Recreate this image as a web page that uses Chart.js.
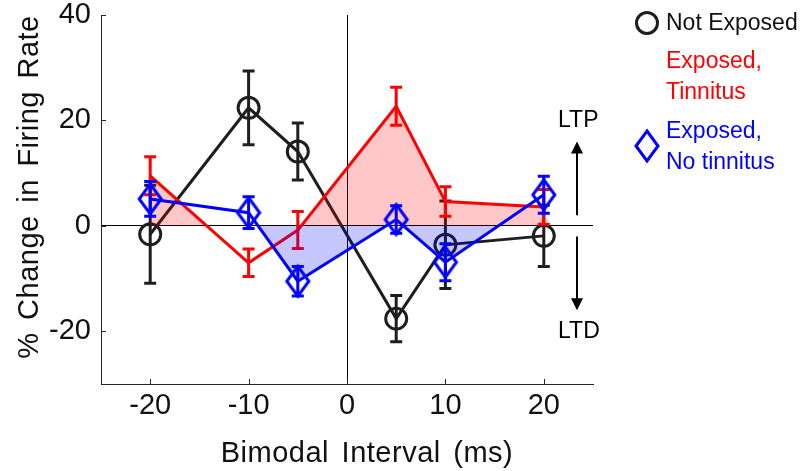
<!DOCTYPE html>
<html>
<head>
<meta charset="utf-8">
<script src="https://cdn.jsdelivr.net/npm/chart.js@4.4.1/dist/chart.umd.min.js"></script>
<style>
  html, body { margin: 0; padding: 0; background: #fff; }
  #wrap { width: 800px; height: 471px; position: relative; }
</style>
</head>
<body>
<div id="wrap"><canvas id="myChart"></canvas></div>
<script>
// data
const intervals = [-20, -10, -5, 5, 10, 20];
const notExposed = [-1.6, 22.4, 14.1, -17.6, -3.6, -1.9];
const notExposedErr = [9.3, 7.0, 5.4, 4.4, 8.3, 5.8];
const tinnitus = [9.5, -7.0, -0.8, 22.7, 4.6, 3.6];
const tinnitusErr = [3.6, 2.6, 3.5, 3.6, 2.8, 3.3];
const noTinnitus = [5.1, 2.5, -10.5, 1.2, -6.9, 5.9];
const noTinnitusErr = [3.3, 3.0, 2.8, 2.6, 3.5, 3.5];
const xTicks = [-20, -10, 0, 10, 20];
const yTicks = [-20, 0, 20, 40];

const FONT = "'Liberation Sans', Arial, sans-serif";
const RED = 'rgb(255,0,0)';
const BLUE = 'rgb(0,0,255)';
const BLACK = 'rgb(30,30,30)';

function pts(ys) {
    return intervals.map((x, i) => ({ x: x, y: ys[i] }));
}

// tall diamond marker
function makeDiamond(w, h, color) {
    const c = document.createElement('canvas');
    c.width = w + 6;
    c.height = h + 6;
    const g = c.getContext('2d');
    g.strokeStyle = color;
    g.lineWidth = 3;
    g.beginPath();
    g.moveTo(c.width / 2, 3);
    g.lineTo(c.width - 3, c.height / 2);
    g.lineTo(c.width / 2, c.height - 3);
    g.lineTo(3, c.height / 2);
    g.closePath();
    g.stroke();
    return c;
}
const diamond = makeDiamond(22, 30, BLUE);

const errors = [notExposedErr, tinnitusErr, noTinnitusErr];

// error bars drawn just before each dataset's own line
const errorBars = {
    id: 'errorBars',
    beforeDatasetDraw(chart, args) {
        const ctx = chart.ctx;
        const ds = chart.data.datasets[args.index];
        const err = errors[args.index];
        const xs = chart.scales.x, ys = chart.scales.y;
        ctx.save();
        ctx.strokeStyle = ds.borderColor;
        ctx.lineWidth = 3;
        ds.data.forEach((p, i) => {
            const px = xs.getPixelForValue(p.x);
            const top = ys.getPixelForValue(p.y + err[i]);
            const bot = ys.getPixelForValue(p.y - err[i]);
            ctx.beginPath();
            ctx.moveTo(px, top); ctx.lineTo(px, bot);
            ctx.moveTo(px - 6, top); ctx.lineTo(px + 6, top);
            ctx.moveTo(px - 6, bot); ctx.lineTo(px + 6, bot);
            ctx.stroke();
        });
        ctx.restore();
    }
};

// inward tick marks, axis titles, legend and LTP/LTD labels
const decorations = {
    id: 'decorations',
    afterDraw(chart) {
        const ctx = chart.ctx;
        const xs = chart.scales.x, ys = chart.scales.y;
        const area = chart.chartArea;
        ctx.save();
        ctx.strokeStyle = '#262626';
        ctx.lineWidth = 1;
        xTicks.forEach(v => {
            const px = Math.round(xs.getPixelForValue(v)) + 0.5;
            ctx.beginPath();
            ctx.moveTo(px, area.bottom);
            ctx.lineTo(px, area.bottom - 5);
            ctx.stroke();
        });
        yTicks.forEach(v => {
            const py = Math.round(ys.getPixelForValue(v)) + 0.5;
            ctx.beginPath();
            ctx.moveTo(area.left, py);
            ctx.lineTo(area.left + 5, py);
            ctx.stroke();
        });

        // axis titles
        ctx.fillStyle = '#111';
        ctx.font = '29px ' + FONT;
        ctx.letterSpacing = '0.5px';
        ctx.wordSpacing = '4px';
        ctx.textAlign = 'center';
        ctx.textBaseline = 'alphabetic';
        ctx.fillText('Bimodal Interval (ms)', 367, 462);
        ctx.save();
        ctx.translate(38, 187);
        ctx.rotate(-Math.PI / 2);
        ctx.fillText('% Change in Firing Rate', 0, 0);
        ctx.restore();
        ctx.letterSpacing = '0px';
        ctx.wordSpacing = '0px';

        // legend
        ctx.font = '23px ' + FONT;
        ctx.textAlign = 'left';
        ctx.textBaseline = 'middle';
        ctx.strokeStyle = BLACK;
        ctx.lineWidth = 3;
        ctx.beginPath();
        ctx.arc(647, 23, 10.5, 0, Math.PI * 2);
        ctx.stroke();
        ctx.fillStyle = '#111';
        ctx.fillText('Not Exposed', 666, 24);
        ctx.fillStyle = RED;
        ctx.fillText('Exposed,', 666, 62);
        ctx.fillText('Tinnitus', 666, 93);
        ctx.drawImage(diamond, 647 - diamond.width / 2, 146 - diamond.height / 2);
        ctx.fillStyle = BLUE;
        ctx.fillText('Exposed,', 666, 132);
        ctx.fillText('No tinnitus', 666, 163);

        // LTP / LTD arrows
        ctx.fillStyle = '#000';
        ctx.strokeStyle = '#000';
        ctx.lineWidth = 2;
        ctx.fillText('LTP', 558, ys.getPixelForValue(20));
        ctx.fillText('LTD', 558, ys.getPixelForValue(-20));
        const ax = 577;
        const upFrom = ys.getPixelForValue(2), upTo = ys.getPixelForValue(16);
        const dnFrom = ys.getPixelForValue(-2), dnTo = ys.getPixelForValue(-16);
        ctx.beginPath();
        ctx.moveTo(ax, upFrom); ctx.lineTo(ax, upTo + 8);
        ctx.moveTo(ax, dnFrom); ctx.lineTo(ax, dnTo - 8);
        ctx.stroke();
        ctx.beginPath();
        ctx.moveTo(ax, upTo); ctx.lineTo(ax - 6, upTo + 12); ctx.lineTo(ax + 6, upTo + 12); ctx.closePath();
        ctx.moveTo(ax, dnTo); ctx.lineTo(ax - 6, dnTo - 12); ctx.lineTo(ax + 6, dnTo - 12); ctx.closePath();
        ctx.fill();
        ctx.restore();
    }
};

const data = {
    datasets: [
        {
            label: 'Not Exposed',
            data: pts(notExposed),
            borderColor: BLACK,
            backgroundColor: 'rgba(0,0,0,0)',
            borderWidth: 3,
            pointRadius: 10.5,
            pointBorderWidth: 3,
            pointBackgroundColor: 'rgba(0,0,0,0)',
            pointBorderColor: BLACK,
            fill: false,
            order: 3
        },
        {
            label: 'Exposed, Tinnitus',
            data: pts(tinnitus),
            borderColor: RED,
            borderWidth: 3,
            pointRadius: 0,
            fill: { target: 'origin', above: 'rgba(255,0,0,0.22)', below: 'rgba(0,0,0,0)' },
            order: 2
        },
        {
            label: 'Exposed, No tinnitus',
            data: pts(noTinnitus),
            borderColor: BLUE,
            borderWidth: 3,
            pointStyle: diamond,
            pointRadius: 12,
            fill: { target: 'origin', above: 'rgba(0,0,0,0)', below: 'rgba(0,0,255,0.22)' },
            order: 1
        }
    ]
};

const config = {
    type: 'line',
    data: data,
    options: {
        responsive: true,
        maintainAspectRatio: false,
        animation: false,
        layout: { padding: { top: 10, right: 207, left: 0, bottom: 0 } },
        plugins: {
            legend: { display: false },
            tooltip: { enabled: false }
        },
        scales: {
            x: {
                type: 'linear',
                min: -25,
                max: 25,
                afterBuildTicks: s => { s.ticks = xTicks.map(v => ({ value: v })); },
                afterFit: s => { s.height = 87; s.paddingLeft = 0; s.paddingRight = 0; },
                ticks: { font: { family: FONT, size: 29 }, color: '#111', padding: 5 },
                grid: {
                    drawTicks: false,
                    color: c => (c.tick && c.tick.value === 0) ? '#000' : 'rgba(0,0,0,0)',
                    lineWidth: 1
                },
                border: { display: true, color: '#262626', width: 1 }
            },
            y: {
                min: -30,
                max: 40,
                afterBuildTicks: s => { s.ticks = yTicks.map(v => ({ value: v })); },
                afterFit: s => { s.width = 101; s.paddingTop = 0; s.paddingBottom = 0; },
                ticks: { font: { family: FONT, size: 29 }, color: '#111', padding: 10 },
                grid: {
                    drawTicks: false,
                    color: c => (c.tick && c.tick.value === 0) ? '#000' : 'rgba(0,0,0,0)',
                    lineWidth: 1
                },
                border: { display: true, color: '#262626', width: 1 }
            }
        }
    },
    plugins: [errorBars, decorations]
};

new Chart(document.getElementById('myChart'), config);
</script>
</body>
</html>
